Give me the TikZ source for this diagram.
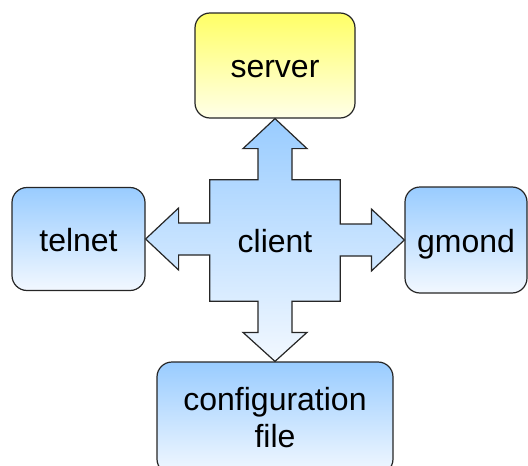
\documentclass[tikz,border=0pt]{standalone}
\usepackage{fontspec}
\setmainfont{Liberation Sans}
\usetikzlibrary{calc}

\definecolor{boxblue}{RGB}{153,204,255}
\definecolor{boxwhite}{RGB}{242,248,255}
\definecolor{srvyellow}{RGB}{255,255,102}
\definecolor{srvpale}{RGB}{255,255,232}

\begin{document}
\begin{tikzpicture}[
		x=1pt, y=-1pt,
		box/.style={draw=black!85, line width=1.2pt, rounded corners=15pt, align=center,
			inner sep=0pt, font=\fontsize{32}{37}\selectfont,
			top color=boxblue, bottom color=boxwhite},
		oneline/.style={text height=29pt, text depth=5pt},
		crossarrow/.style={draw=black!85, line width=1.2pt, line join=miter,
			top color=boxblue, bottom color=boxwhite}
	]
	\useasboundingbox (0,0) rectangle (528,466);

	% the four boxes round the client
	\node[box, oneline, minimum width=160pt, minimum height=105pt,
		top color=srvyellow, bottom color=srvpale] (server) at (275,65.5) {server};
	\node[box, oneline, minimum width=133pt, minimum height=103pt] (telnet) at (78.5,239) {telnet};
	\node[box, oneline, minimum width=122pt, minimum height=106pt] (gmond) at (466,240) {gmond};
	\node[box, minimum width=236pt, minimum height=112pt] (config) at (275,418) {configuration\\file};

	% client: square with a double arrow out of each side
	\node[minimum width=130pt, minimum height=121pt, inner sep=0pt] (client) at (275,240.5) {};
	\path[crossarrow] (server.south) -- ++(32,30) -- ++(-15,0) |- (client.north east)
		|- ($(gmond.west)+(-33,-16)$) -- ++(0,-15) -- (gmond.west) -- ++(-33,31) -- ++(0,-15) -| (client.south east)
		-| ($(config.north)+(17,-29)$) -- ++(15,0) -- (config.north) -- ++(-32,-29) -- ++(15,0) |- (client.south west)
		|- ($(telnet.east)+(33,16)$) -- ++(0,15) -- (telnet.east) -- ++(33,-31) -- ++(0,15) -| (client.north west)
		-| ($(server.south)+(-17,30)$) -- ++(-15,0) -- cycle;
	\node[font=\fontsize{32}{37}\selectfont, oneline, inner sep=0pt] at (client) {client};

\end{tikzpicture}
\end{document}
